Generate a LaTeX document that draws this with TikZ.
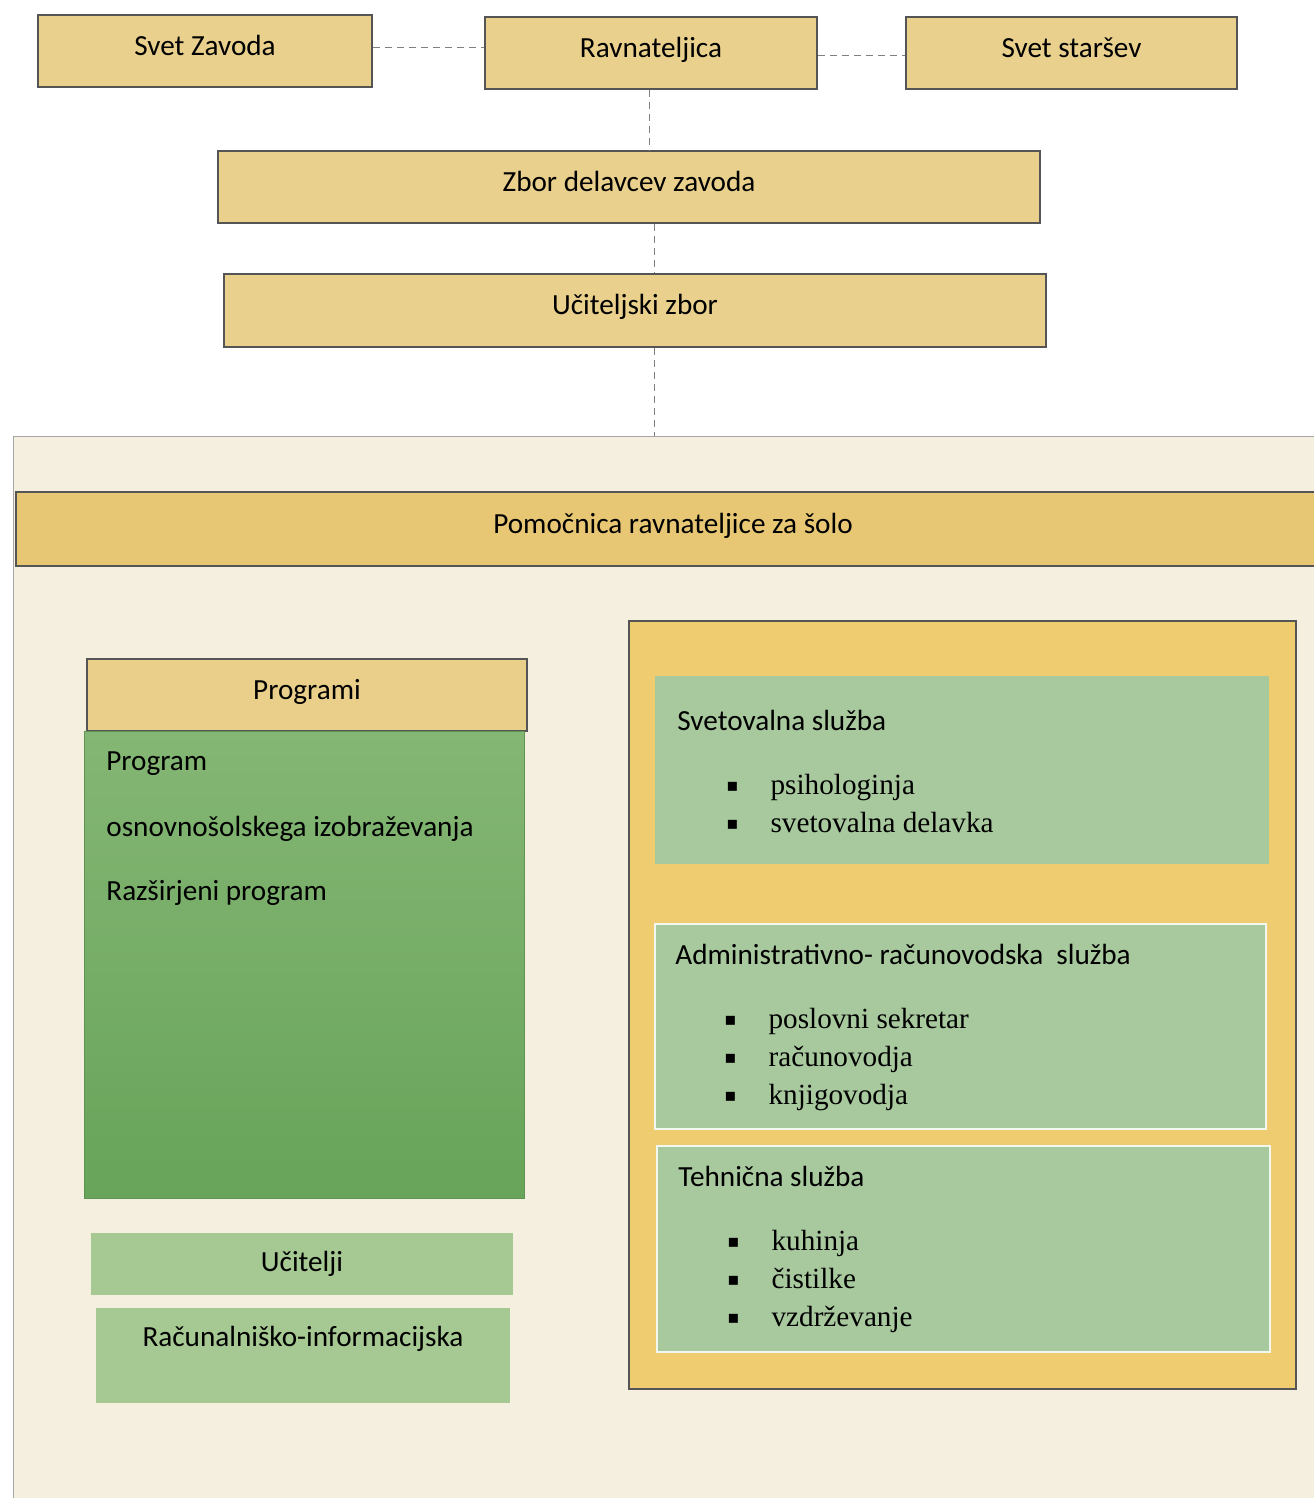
\documentclass[tikz,border=0pt]{standalone}
\usepackage{fontspec}
\setmainfont{Carlito}
\newfontfamily\itemfont{Liberation Serif}
\newfontfamily\bulfont{DejaVu Sans}
\definecolor{hdr}{RGB}{233,208,140}
\definecolor{pomo}{RGB}{231,199,116}
\definecolor{edge}{RGB}{85,85,85}
\definecolor{panel}{RGB}{245,239,224}
\definecolor{orangep}{RGB}{240,204,112}
\definecolor{sage}{RGB}{168,200,158}
\definecolor{lgreen}{RGB}{166,200,146}
\definecolor{gtop}{RGB}{132,182,116}
\definecolor{gbot}{RGB}{104,164,90}
\newcommand{\bul}{\raisebox{1.2pt}{\bulfont\fontsize{9pt}{9pt}\selectfont ▪}}
\begin{document}
\begin{tikzpicture}[x=0.5pt,y=-0.5pt,
  hbox/.style={draw=edge, line width=0.9pt, fill=hdr, inner sep=0pt,
    text height=10pt, text depth=5.6pt,
    font=\fontsize{14.6pt}{17pt}\selectfont},
  gbox/.style={fill=sage, draw=white!85!sage, line width=0.8pt, inner sep=0pt},
  ttl/.style={anchor=west, inner sep=0pt, font=\fontsize{14.6pt}{17pt}\selectfont},
  items/.style={anchor=north west, inner sep=0pt, font=\itemfont\fontsize{14.6pt}{19pt}\selectfont},
  dashline/.style={draw=gray, line width=0.5pt, dash pattern=on 3.5pt off 2.5pt}]
\useasboundingbox (0,0) rectangle (1313,1498);
% top row
\node[hbox, minimum width=167pt, minimum height=36pt] (sz) at (205,51) {Svet Zavoda};
\node[hbox, minimum width=166pt, minimum height=36pt] (rav) at (651,53) {Ravnateljica};
\node[hbox, minimum width=165.5pt, minimum height=36pt] (ss) at (1071.5,53) {Svet staršev};
\node[hbox, minimum width=411pt, minimum height=36pt] (zbor) at (629,187) {Zbor delavcev zavoda};
\node[hbox, minimum width=411pt, minimum height=36.5pt] (uz) at (635,310.5) {Učiteljski zbor};
% background panel
\fill[panel] (13,436) rectangle (1320,1505);
\draw[draw=gray!70, line width=0.5pt] (13,1505) -- (13,436) -- (1320,436);
\coordinate (ptop) at (654,436);
% connectors
\draw[dashline] (sz.east |- 0,48) -- (rav.west |- 0,48);
\draw[dashline] (rav.east |- 0,56) -- (ss.west |- 0,56);
\draw[dashline] (rav.south -| 649,0) -- (zbor.north -| 649,0);
\draw[dashline] (zbor.south -| 654,0) -- (uz.north -| 654,0);
\draw[dashline] (uz.south -| 654,0) -- (ptop);
% Pomocnica
\node[hbox, fill=pomo, minimum width=652pt, minimum height=37pt] (pom) at (668,529) {};
\node[inner sep=0pt, font=\fontsize{14.6pt}{17pt}\selectfont] (pomt) at (673,526) {Pomočnica ravnateljice za šolo};
% Programi
\node[hbox, fill=hdr!90!pomo, minimum width=220pt, minimum height=36pt] (prg) at (307,695) {Programi};
\node[inner sep=0pt, minimum width=220pt, minimum height=233.5pt, top color=gtop, bottom color=gbot, draw=gbot!90!black, line width=0.4pt] (prgb) at (304,964.5) {};
\node[ttl] (p1) at (106,764) {Program};
\node[ttl] (p2) at (106,829) {osnovnošolskega izobraževanja};
\node[ttl] (p3) at (106,893) {Razširjeni program};
% left lower boxes
\node[gbox, fill=lgreen, draw=none, minimum width=211pt, minimum height=31pt, font=\fontsize{14.6pt}{17pt}\selectfont] (uci) at (302,1264) {Učitelji};
\node[gbox, fill=lgreen, draw=none, minimum width=207pt, minimum height=47.5pt] (rac) at (303,1355.5) {};
\node[inner sep=0pt, font=\fontsize{14.6pt}{17pt}\selectfont] (ract) at (303,1339) {Računalniško-informacijska};
% right panel
\node[draw=edge, line width=0.9pt, fill=orangep, inner sep=0pt, minimum width=333.5pt, minimum height=384pt] (rp) at (962.5,1005) {};
\node[gbox, draw=none, minimum width=307pt, minimum height=94pt] (sv) at (962,770) {};
\node[gbox, minimum width=305.5pt, minimum height=102.5pt] (adm) at (960.5,1026.5) {};
\node[gbox, minimum width=306.5pt, minimum height=103pt] (teh) at (963.5,1249) {};
\node[ttl] (svt) at (677,720) {Svetovalna služba};
\node[items] (svi) at (726,767) {\begin{tabular}{@{}l@{\hspace{16pt}}l@{}}\bul & psihologinja\\ \bul & svetovalna delavka\end{tabular}};
\node[ttl] (admt) at (675,954) {Administrativno- računovodska\ \ služba};
\node[items] (admi) at (724,1001) {\begin{tabular}{@{}l@{\hspace{16pt}}l@{}}\bul & poslovni sekretar\\ \bul & računovodja\\ \bul & knjigovodja\end{tabular}};
\node[ttl] (teht) at (678,1176) {Tehnična služba};
\node[items] (tehi) at (727,1223) {\begin{tabular}{@{}l@{\hspace{16pt}}l@{}}\bul & kuhinja\\ \bul & čistilke\\ \bul & vzdrževanje\end{tabular}};
\end{tikzpicture}
\end{document}
